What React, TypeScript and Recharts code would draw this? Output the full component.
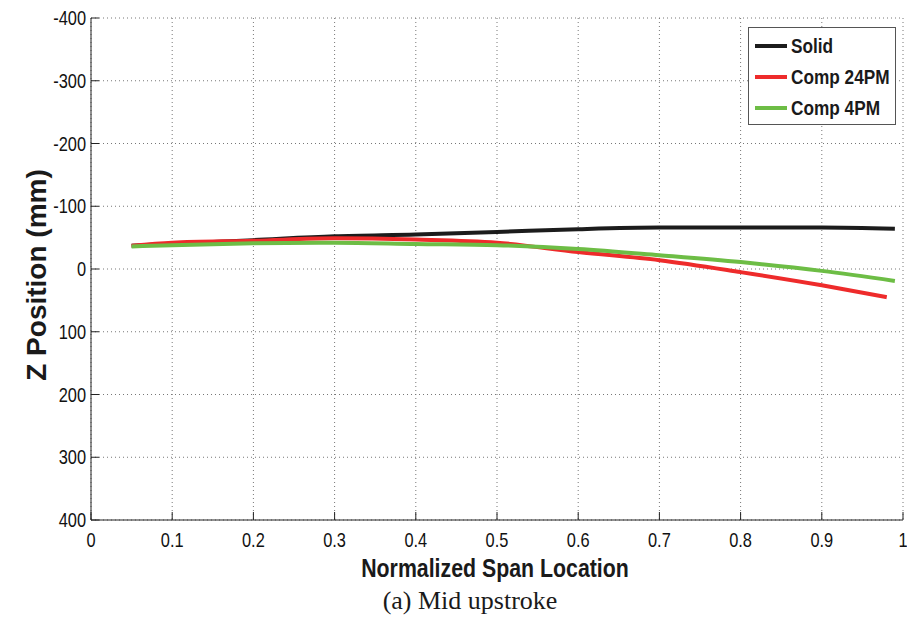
import { LineChart, Line, XAxis, YAxis, CartesianGrid } from "recharts";

// span locations for each series (normalized)
const spanSolid = [0.05, 0.1, 0.2, 0.3, 0.4, 0.5, 0.6, 0.7, 0.8, 0.9, 0.99];
const spanComp24 = [0.05, 0.1, 0.2, 0.3, 0.4, 0.5, 0.6, 0.7, 0.8, 0.9, 0.98];
const spanComp4 = [0.05, 0.1, 0.2, 0.3, 0.4, 0.5, 0.6, 0.7, 0.8, 0.9, 0.99];

// Z position (mm)
const solidZ = [-37, -40, -46, -52, -55, -59, -63.5, -66, -66, -66, -64];
const comp24Z = [-37, -42, -45, -49, -47, -42, -27, -14, 5, 26, 45];
const comp4Z = [-36, -38, -41, -42, -40, -38, -32, -22, -11, 3, 19];

const xTicks = [0, 0.1, 0.2, 0.3, 0.4, 0.5, 0.6, 0.7, 0.8, 0.9, 1];
const yTicks = [-400, -300, -200, -100, 0, 100, 200, 300, 400];

const series = [
  { name: "Solid", color: "#1c1c1c", span: spanSolid, z: solidZ },
  { name: "Comp 24PM", color: "#ee2b2b", span: spanComp24, z: comp24Z },
  { name: "Comp 4PM", color: "#6dbd45", span: spanComp4, z: comp4Z },
];

// no Arial Narrow available, so squeeze Liberation Sans horizontally
const sans = "'Liberation Sans', Arial, sans-serif";
const SQUEEZE = 0.82;

const fmtX = (v: number) => (v === 0 || v === 1 ? String(v) : v.toFixed(1));

const NarrowTick = (props: any) => {
  const { x, y, payload, textAnchor, orientation } = props;
  const label = orientation === "bottom" ? fmtX(payload.value) : String(payload.value);
  return (
    <text
      transform={`translate(${x},${y}) scale(${SQUEEZE},1)`}
      textAnchor={textAnchor}
      dy={orientation === "bottom" ? "0.71em" : "0.36em"}
      fontFamily={sans}
      fontSize={20}
      fill="#111"
    >
      {label}
    </text>
  );
};

const LegendBox = () => (
  <div
    style={{
      position: "absolute",
      left: 748,
      top: 27,
      width: 148,
      height: 98,
      border: "1px solid #555",
      background: "#fff",
      boxSizing: "border-box",
      paddingTop: 2,
    }}
  >
    {series.map((s) => (
      <div key={s.name} style={{ display: "flex", alignItems: "center", height: 31 }}>
        <div
          style={{
            width: 32,
            height: 4,
            background: s.color,
            marginLeft: 6,
            marginRight: 4,
            flexShrink: 0,
          }}
        />
        <span
          style={{
            display: "inline-block",
            transform: `scaleX(${SQUEEZE})`,
            transformOrigin: "left center",
            fontFamily: sans,
            fontWeight: "bold",
            fontSize: 21,
            color: "#1a1a1a",
            whiteSpace: "nowrap",
          }}
        >
          {s.name}
        </span>
      </div>
    ))}
  </div>
);

export default function App() {
  return (
    <div style={{ position: "absolute", left: 0, top: 0, width: 907, height: 625 }}>
      <LineChart width={907} height={625} margin={{ top: 18, right: 4, left: 0, bottom: 0 }}>
        <CartesianGrid stroke="#777" strokeDasharray="1 3" />
        <XAxis
          type="number"
          dataKey="x"
          domain={[0, 1]}
          ticks={xTicks}
          allowDuplicatedCategory={false}
          height={105}
          stroke="#222"
          tickSize={-8}
          tickMargin={21}
          tick={(p: any) => <NarrowTick {...p} orientation="bottom" />}
          label={{
            content: () => (
              <text
                transform={`translate(495,577) scale(${SQUEEZE},1)`}
                textAnchor="middle"
                fontFamily={sans}
                fontWeight="bold"
                fontSize={26}
                fill="#1a1a1a"
              >
                Normalized Span Location
              </text>
            ),
          }}
        />
        <XAxis
          xAxisId="top"
          orientation="top"
          type="number"
          domain={[0, 1]}
          ticks={xTicks}
          height={0}
          stroke="#222"
          tickSize={-8}
          tick={false}
        />
        <YAxis
          type="number"
          domain={[-400, 400]}
          ticks={yTicks}
          reversed
          width={91}
          stroke="#222"
          tickSize={-8}
          tickMargin={13}
          tick={(p: any) => <NarrowTick {...p} orientation="left" />}
          label={{
            content: () => (
              <text
                x={46}
                y={275}
                transform="rotate(-90 46 275)"
                textAnchor="middle"
                fontFamily={sans}
                fontWeight="bold"
                fontSize={28}
                fill="#1a1a1a"
              >
                Z Position (mm)
              </text>
            ),
          }}
        />
        <YAxis
          yAxisId="right"
          orientation="right"
          type="number"
          domain={[-400, 400]}
          ticks={yTicks}
          reversed
          width={0}
          stroke="#222"
          tickSize={-8}
          tick={false}
        />
        {series.map((s) => (
          <Line
            key={s.name}
            name={s.name}
            data={s.span.map((x, i) => ({ x, z: s.z[i] }))}
            dataKey="z"
            type="monotone"
            stroke={s.color}
            strokeWidth={4}
            dot={false}
            isAnimationActive={false}
          />
        ))}
      </LineChart>
      <LegendBox />
      <div
        style={{
          position: "absolute",
          left: 320,
          top: 588,
          width: 300,
          textAlign: "center",
          fontFamily: "'Liberation Serif', 'Times New Roman', serif",
          fontSize: 26,
          lineHeight: 1,
          color: "#1a1a1a",
          whiteSpace: "nowrap",
        }}
      >
        (a) Mid upstroke
      </div>
    </div>
  );
}
